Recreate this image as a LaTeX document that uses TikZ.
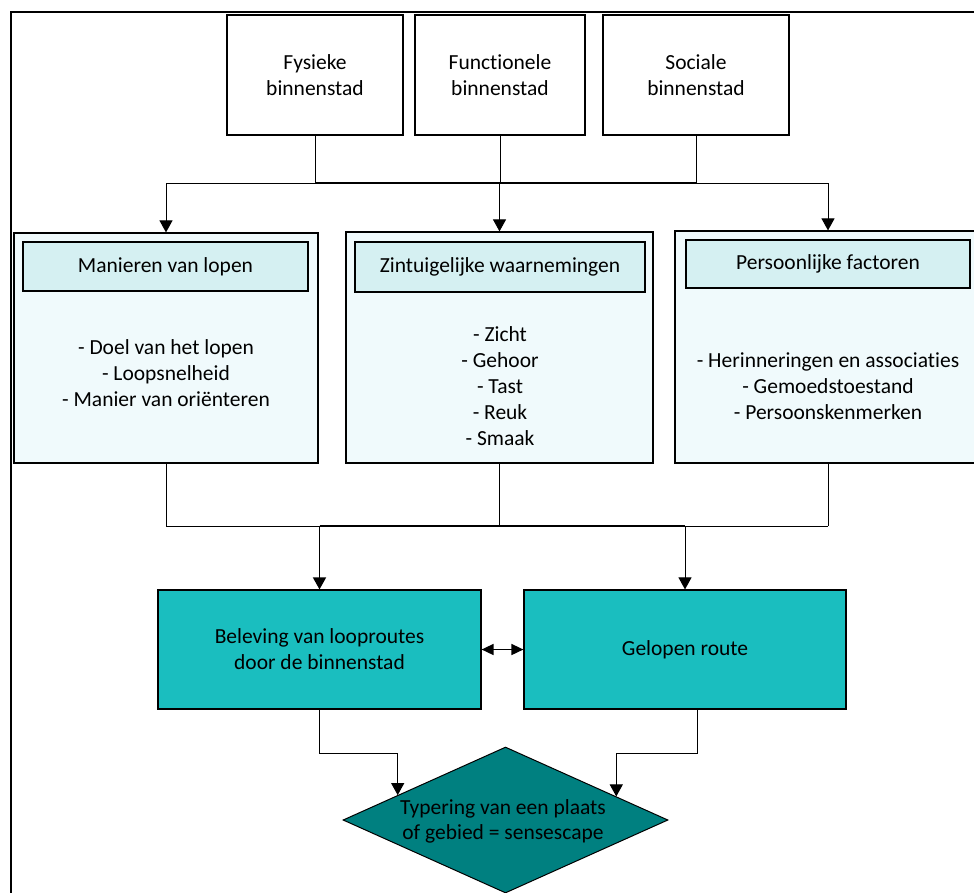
\documentclass[tikz,border=0pt]{standalone}
\usepackage{fontspec}
\setmainfont{Carlito}[Ligatures={NoCommon}]
\usetikzlibrary{arrows.meta,shapes.geometric}
\definecolor{lightfill}{HTML}{F0FAFC}
\definecolor{headfill}{HTML}{D5F0F2}
\definecolor{tealbox}{HTML}{1ABEBF}
\definecolor{tealdark}{HTML}{008080}
\tikzset{
  box/.style={draw=black, line width=1.2pt, inner sep=0pt, align=center,
    font=\fontsize{21.5}{26}\selectfont},
  topbox/.style={box, fill=white},
  bigbox/.style={box, fill=lightfill},
  headbox/.style={box, fill=headfill},
  tbox/.style={box, fill=tealbox},
  txt/.style={inner sep=0pt, align=center, font=\fontsize{21.5}{26}\selectfont},
  conn/.style={draw=black, line width=1pt},
  thick conn/.style={draw=black, line width=1.8pt},
  arr/.style={conn, -{Triangle[length=12pt,width=13pt]}},
  darr/.style={conn, line width=1.6pt, {Triangle[length=12pt,width=11pt]}-{Triangle[length=12pt,width=11pt]}},
}
\begin{document}
\begin{tikzpicture}[x=1pt,y=-1pt]
\useasboundingbox (0,0) rectangle (974,892);
\clip (0,0) rectangle (974,892);
\fill[white] (0,0) rectangle (974,892);
% outer frame
\draw[line width=1.5pt] (11,910) -- (11,12) -- (990,12);

% top boxes
\node[topbox, minimum width=176pt, minimum height=120pt] (fys) at (315,75) {Fysieke\\binnenstad};
\node[topbox, minimum width=170pt, minimum height=120pt] (func) at (500,75) {Functionele\\binnenstad};
\node[topbox, minimum width=186pt, minimum height=120pt] (soc) at (696,75) {Sociale\\binnenstad};

% middle boxes
\node[bigbox, minimum width=304pt, minimum height=230pt] (man) at (166,348) {};
\node[bigbox, minimum width=307pt, minimum height=231pt] (zin) at (499.5,347.5) {};
\node[bigbox, minimum width=306pt, minimum height=232pt] (pers) at (828,347) {};
\node[headbox, minimum width=285pt, minimum height=49pt] (h1) at (165.5,266.5) {Manieren van lopen};
\node[headbox, minimum width=290pt, minimum height=50pt] (h2) at (500,267) {Zintuigelijke waarnemingen};
\node[headbox, minimum width=284pt, minimum height=48pt] (h3) at (828,264) {Persoonlijke factoren};
\node[txt] (l1) at (166,373) {- Doel van het lopen\\- Loopsnelheid\\- Manier van oriënteren};
\node[txt] (l2) at (500,386) {- Zicht\\- Gehoor\\- Tast\\- Reuk\\- Smaak};
\node[txt] (l3) at (828,386) {- Herinneringen en associaties\\- Gemoedstoestand\\- Persoonskenmerken};

% teal boxes
\node[tbox, minimum width=323pt, minimum height=119pt] (bel) at (319.5,649.5) {Beleving van looproutes\\door de binnenstad};
\node[tbox, minimum width=322pt, minimum height=119pt] (gel) at (685,649.5) {Gelopen route};

% diamond
\node[draw=black, line width=1pt, fill=tealdark, shape=diamond, inner sep=0pt,
  minimum width=325pt, minimum height=146pt, aspect=2.23, align=center,
  font=\fontsize{21.5}{25}\selectfont] (dia) at (505.5,820) {};
\node[txt, font=\fontsize{21.5}{25}\selectfont] (diat) at (503,821) {Typering van een plaats\\of gebied = sensescape};

% top connectors
\coordinate (tj1) at (man.north |- 0,183);
\coordinate (tj2) at (zin.north |- 0,183);
\coordinate (tj3) at (pers.north |- 0,183);
\draw[conn] (fys.south) -- (fys.south |- tj1);
\draw[conn] (func.south) -- (func.south |- tj1);
\draw[conn] (soc.south) -- (soc.south |- tj1);
\draw[conn] (tj1) -- (tj3);
\draw[thick conn] (fys.south |- tj1) -- (soc.south |- tj1);
\draw[arr] (tj1) -- (man.north);
\draw[arr] (tj2) -- (zin.north);
\draw[arr] (tj3) -- (pers.north);

% middle connectors
\coordinate (mj1) at (man.south |- 0,526);
\coordinate (mj3) at (pers.south |- 0,526);
\draw[conn] (man.south) -- (mj1);
\draw[conn] (zin.south) -- (zin.south |- mj1);
\draw[conn] (pers.south) -- (mj3);
\draw[conn] (mj1) -- (mj3);
\draw[thick conn] (bel.north |- mj1) -- (gel.north |- mj1);
\draw[arr, line width=1.6pt] (bel.north |- mj1) -- (bel.north);
\draw[arr] (gel.north |- mj1) -- (gel.north);

% double arrow
\draw[darr] (bel.east) -- (gel.west);

% bottom connectors
\coordinate (gb) at (697,709);
\draw[arr] (bel.south) -- (bel.south |- 0,753) -| (dia.167.6);
\draw[arr] (gb) -- (697,753) -| (dia.12.4);
\end{tikzpicture}
\end{document}
